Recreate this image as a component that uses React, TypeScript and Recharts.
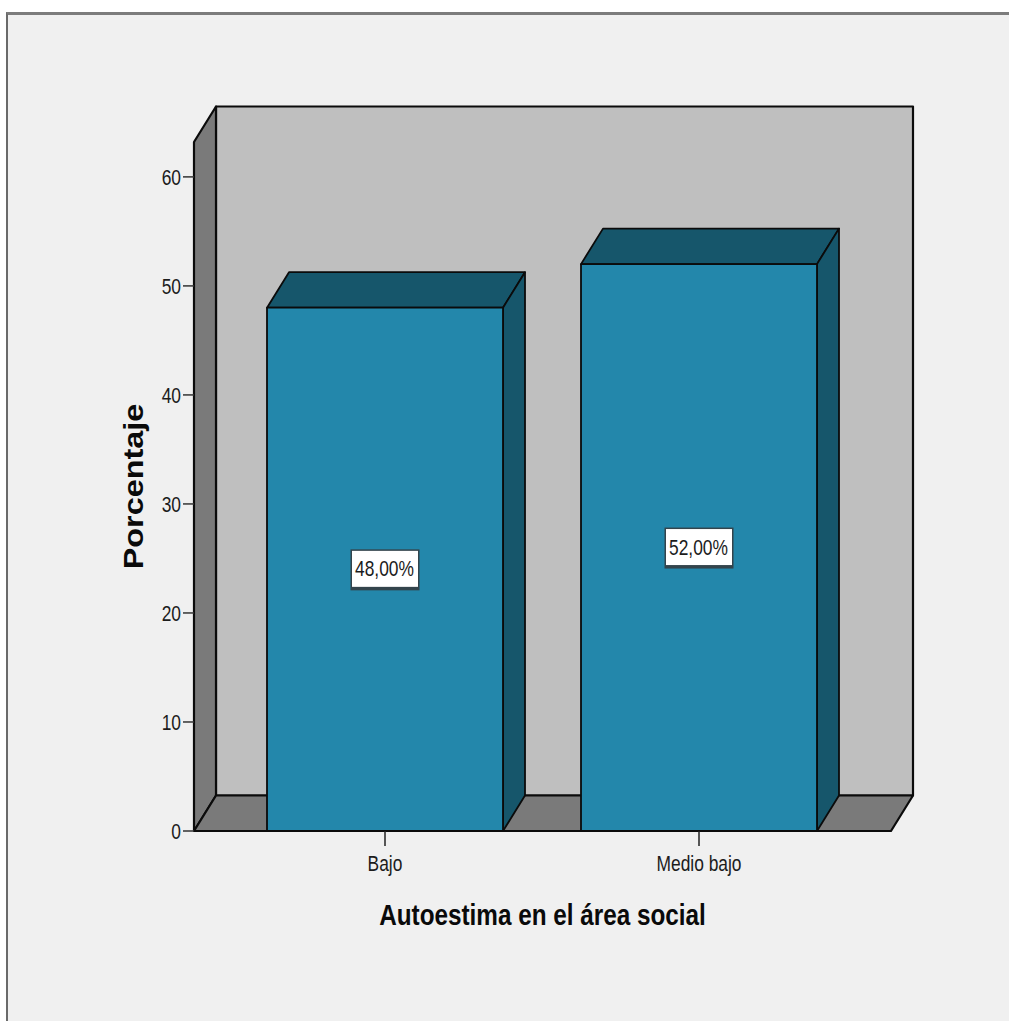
import { BarChart, Bar, XAxis, YAxis, ReferenceArea, LabelList } from 'recharts'

const categories = ['Bajo', 'Medio bajo']
const percentages = [48, 52]
const yTicks = [0, 10, 20, 30, 40, 50, 60]
const yMax = 63.2

const chartData = categories.map((name, i) => ({ name, value: percentages[i] }))

const DEPTH_X = 22
const DEPTH_Y = -35.5
const PAD_LEFT = 34
const PAD_RIGHT = 35
const SANS = '"Liberation Sans", Arial, sans-serif'
const OUTLINE = '#0b0b0b'
const NARROW_SCALE = 0.79

// back wall, side wall and floor of the 3D box
const Walls = ({ x: innerX, y, width: innerWidth, height }: any) => {
  // the area only spans the padded range of the category axis
  const x = innerX - PAD_LEFT
  const width = innerWidth + PAD_LEFT + PAD_RIGHT
  const r = x + width
  const b = y + height
  return (
    <g stroke={OUTLINE} strokeWidth={2.2} strokeLinejoin="round">
      <rect x={x + DEPTH_X} y={y + DEPTH_Y} width={width} height={height} fill="#bfbfbf" />
      <polygon
        points={`${x},${b} ${x + DEPTH_X},${b + DEPTH_Y} ${x + DEPTH_X},${y + DEPTH_Y} ${x},${y}`}
        fill="#7a7a7a"
      />
      <polygon
        points={`${x},${b} ${x + DEPTH_X},${b + DEPTH_Y} ${r + DEPTH_X},${b + DEPTH_Y} ${r},${b}`}
        fill="#7a7a7a"
      />
    </g>
  )
}

const Bar3D = ({ x, y, width, height }: any) => {
  const r = x + width
  const b = y + height
  return (
    <g stroke={OUTLINE} strokeWidth={1.8} strokeLinejoin="round">
      <polygon
        points={`${x},${y} ${x + DEPTH_X},${y + DEPTH_Y} ${r + DEPTH_X},${y + DEPTH_Y} ${r},${y}`}
        fill="#16566b"
      />
      <polygon
        points={`${r},${y} ${r + DEPTH_X},${y + DEPTH_Y} ${r + DEPTH_X},${b + DEPTH_Y} ${r},${b}`}
        fill="#16566b"
      />
      <rect x={x} y={y} width={width} height={height} fill="#2387ab" />
    </g>
  )
}

const NarrowText = ({ x, y, anchor, children }: any) => (
  <text
    transform={`translate(${x},${y}) scale(${NARROW_SCALE},1)`}
    textAnchor={anchor}
    fontFamily={SANS}
    fontSize={22}
    fill="#1c1c1c"
  >
    {children}
  </text>
)

const XTick = ({ x, y, payload }: any) => (
  <NarrowText x={x} y={y + 20} anchor="middle">{payload.value}</NarrowText>
)

const YTick = ({ x, y, payload }: any) => (
  <NarrowText x={x} y={y + 8} anchor="end">{payload.value}</NarrowText>
)

const ValueBox = ({ x, y, width, height, value }: any) => {
  const cx = x + width / 2
  const cy = y + height / 2
  return (
    <g>
      <rect x={cx - 34.5} y={cy - 20} width={69} height={41} fill="#33444c" />
      <rect x={cx - 33} y={cy - 18.5} width={66} height={36} fill="#fff" />
      <NarrowText x={cx - 0.5} y={cy + 7} anchor="middle">
        {`${Number(value).toFixed(2).replace('.', ',')}%`}
      </NarrowText>
    </g>
  )
}

const XTitle = ({ viewBox }: any) => (
  <text
    transform={`translate(${viewBox.x + viewBox.width / 2},${viewBox.y + 94}) scale(0.81,1)`}
    textAnchor="middle"
    fontFamily={SANS}
    fontWeight={700}
    fontSize={30}
    fill="#0a0a0a"
  >
    Autoestima en el área social
  </text>
)

const YTitle = ({ viewBox }: any) => (
  <text
    transform={`translate(${viewBox.x + 49},${viewBox.y + viewBox.height / 2}) rotate(-90) scale(1.2,1)`}
    textAnchor="middle"
    fontFamily={SANS}
    fontWeight={700}
    fontSize={27}
    fill="#0a0a0a"
  >
    Porcentaje
  </text>
)

export default function App() {
  return (
    <div style={{ position: 'absolute', left: 0, top: 0, width: 1009, height: 1021, overflow: 'hidden', background: '#fff' }}>
      <div
        style={{
          position: 'absolute',
          left: 6,
          top: 12,
          right: 0,
          bottom: 0,
          background: '#f0f0f0',
          borderTop: '3px solid #7c7c7c',
          borderLeft: '2px solid #6a6a6a',
        }}
      />
      <div style={{ position: 'absolute', left: 0, top: 0 }}>
        <BarChart
          width={1009}
          height={1021}
          data={chartData}
          margin={{ top: 142, right: 118, bottom: 90, left: 94 }}
          barSize={236}
        >
          <ReferenceArea y1={0} y2={yMax} shape={<Walls />} ifOverflow="visible" />
          <XAxis
            dataKey="name"
            height={100}
            interval={0}
            padding={{ left: PAD_LEFT, right: PAD_RIGHT }}
            axisLine={{ stroke: OUTLINE, strokeWidth: 2.2 }}
            tickLine={{ stroke: '#222', strokeWidth: 1.5 }}
            tickSize={15}
            tickMargin={5}
            tick={<XTick />}
            label={<XTitle />}
          />
          <YAxis
            width={100}
            domain={[0, yMax]}
            ticks={yTicks}
            interval={0}
            axisLine={false}
            tickLine={{ stroke: '#333', strokeWidth: 1.5 }}
            tickSize={11}
            tickMargin={2}
            tick={<YTick />}
            label={<YTitle />}
          />
          <Bar dataKey="value" shape={<Bar3D />} isAnimationActive={false}>
            <LabelList dataKey="value" content={<ValueBox />} />
          </Bar>
        </BarChart>
      </div>
    </div>
  )
}
